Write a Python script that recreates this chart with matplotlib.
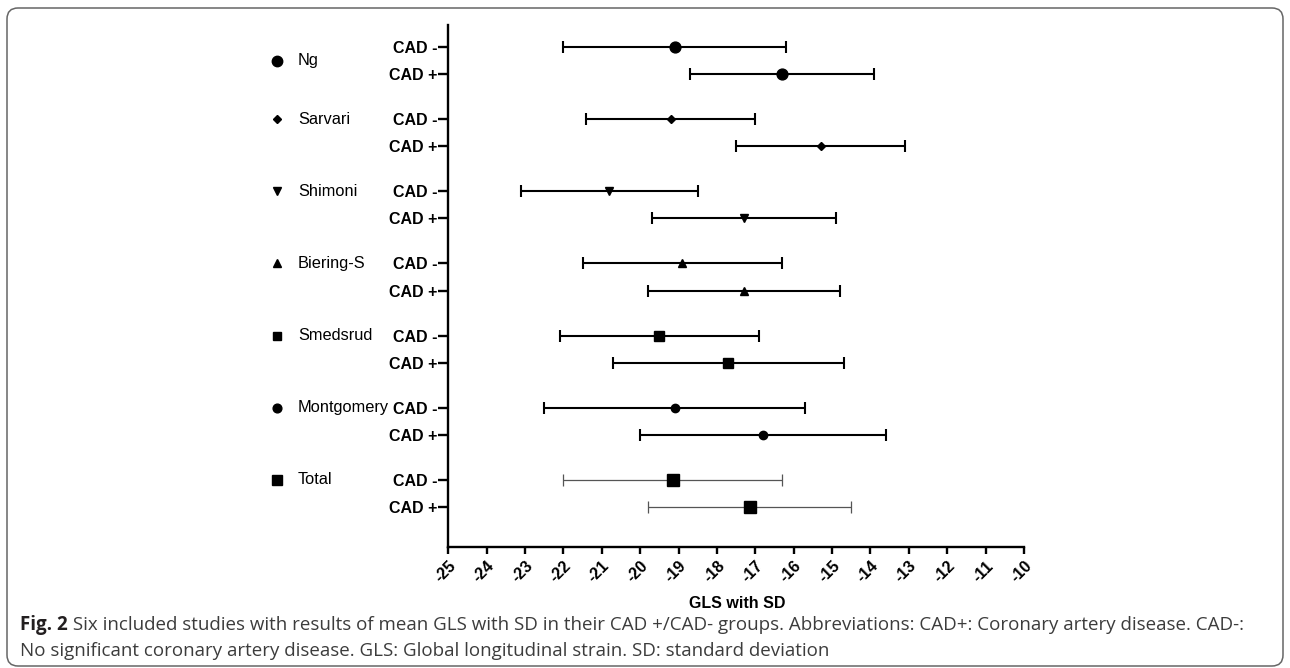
import matplotlib
matplotlib.use('Agg')
import matplotlib.pyplot as plt
from matplotlib.patches import FancyBboxPatch
from matplotlib.transforms import blended_transform_factory, IdentityTransform

# ---------------- data ----------------
studies = ['Ng', 'Sarvari', 'Shimoni', 'Biering-S', 'Smedsrud', 'Montgomery', 'Total']
mean_neg = [-19.1, -19.2, -20.8, -18.9, -19.5, -19.1, -19.15]
sd_neg = [2.9, 2.2, 2.3, 2.6, 2.6, 3.4, 2.85]
mean_pos = [-16.3, -15.3, -17.3, -17.3, -17.7, -16.8, -17.15]
sd_pos = [2.4, 2.2, 2.4, 2.5, 3.0, 3.2, 2.65]
group_labels = ['CAD -', 'CAD +']
x_ticks = list(range(-25, -9))
x_tick_labels = [str(v) for v in x_ticks]
x_label = 'GLS with SD'
caption_bold = 'Fig. 2'
caption_line1 = (' Six included studies with results of mean GLS with SD in their CAD +/CAD- groups. '
                 'Abbreviations: CAD+: Coronary artery disease. CAD-:')
caption_line2 = 'No significant coronary artery disease. GLS: Global longitudinal strain. SD: standard deviation'

# ---------------- styles ----------------
markers = ['o', 'D', 'v', '^', 's', 'o', 's']
msizes = [7.8, 3.6, 6, 6, 6.5, 6, 8.2]
legend_msizes = [7.5, 3.6, 6, 6, 6.3, 6.3, 7.5]

W, H = 1290, 668
fig = plt.figure(figsize=(W / 100, H / 100), dpi=100)
fig.patch.set_facecolor('white')

ax_left, ax_right, ax_top, ax_bot = 448.3, 1024.0, 25.0, 547.0
ax = fig.add_axes([ax_left / W, 1 - ax_bot / H, (ax_right - ax_left) / W, (ax_bot - ax_top) / H])

txt_font = ['Liberation Sans', 'DejaVu Sans']

y_ticks = []
y_labels = []
for g, name in enumerate(studies):
    y_n = 8 * g
    y_p = 8 * g + 3
    is_total = (name == 'Total')
    col = '#555555' if is_total else 'black'
    lw = 0.9 if is_total else 1.5
    for y, m, s in ((y_n, mean_neg[g], sd_neg[g]), (y_p, mean_pos[g], sd_pos[g])):
        ax.errorbar([m], [y], xerr=[s], fmt='none', ecolor=col, elinewidth=lw,
                    capsize=4, capthick=lw, zorder=2)
        ax.plot([m], [y], marker=markers[g], ms=msizes[g], color='black',
                mec='black', ls='none', zorder=3)
    y_ticks += [y_n, y_p]
    y_labels += group_labels

ax.set_xlim(-25, -10)
ax.set_ylim(8 * (len(studies) - 1) + 3 + 4.44, -2.44)

ax.set_yticks(y_ticks)
ax.set_yticklabels(y_labels, fontweight='bold', fontsize=11.5, family=txt_font)
ax.set_xticks(x_ticks)
ax.set_xticklabels(x_tick_labels, fontweight='bold', fontsize=11.5, family=txt_font,
                   rotation=45, ha='right', rotation_mode='anchor')

for side in ('top', 'right'):
    ax.spines[side].set_visible(False)
for side in ('left', 'bottom'):
    ax.spines[side].set_linewidth(1.7)
    ax.spines[side].set_color('black')
ax.tick_params(axis='y', length=7, width=1.7, pad=1)
ax.tick_params(axis='x', length=5, width=1.7, pad=3)

# study legend column (left of axis)
trans = blended_transform_factory(fig.transFigure, ax.transData)
for g, name in enumerate(studies):
    y = 8 * g + (1.5 if g == 0 else 0)
    ax.plot([277 / W], [y], marker=markers[g], ms=legend_msizes[g], color='black',
            transform=trans, clip_on=False, ls='none')
    ax.text(298 / W, y, name, transform=trans, fontsize=11.8, family=txt_font,
            va='center', ha='left', color='black')

# x axis label
fig.text(737 / W, 1 - 603 / H, x_label, fontweight='bold', fontsize=11.5,
         family=txt_font, ha='center', va='center')

# frame
frame = FancyBboxPatch((7, 2), W - 14, H - 10,
                       boxstyle='round,pad=0,rounding_size=11',
                       transform=IdentityTransform(), facecolor='none',
                       edgecolor='#666666', linewidth=1.1)
fig.patches.append(frame)

# caption
cap_font = ['Open Sans', 'DejaVu Sans']
cap_col = '#3c3c3c'
fs = 12.5
renderer = fig.canvas.get_renderer()
tb = fig.text(20 / W, 1 - 625 / H, caption_bold, fontweight='bold', fontsize=fs,
              family=cap_font, color='#231f20', va='center', ha='left')
bb = tb.get_window_extent(renderer)
t1 = fig.text(bb.x1 / W, 1 - 625 / H, caption_line1, fontsize=fs, family=cap_font,
              color=cap_col, va='center', ha='left')
b1 = t1.get_window_extent(renderer)
scale = (1247 - 20) / (b1.x1 - bb.x0)
fs2 = fs * scale
tb.set_fontsize(fs2)
bb = tb.get_window_extent(renderer)
t1.set_fontsize(fs2)
t1.set_position((bb.x1 / W, 1 - 625 / H))
fig.text(20 / W, 1 - 651 / H, caption_line2, fontsize=fs2, family=cap_font,
         color=cap_col, va='center', ha='left')

fig.savefig('out.png', dpi=100, facecolor='white')
